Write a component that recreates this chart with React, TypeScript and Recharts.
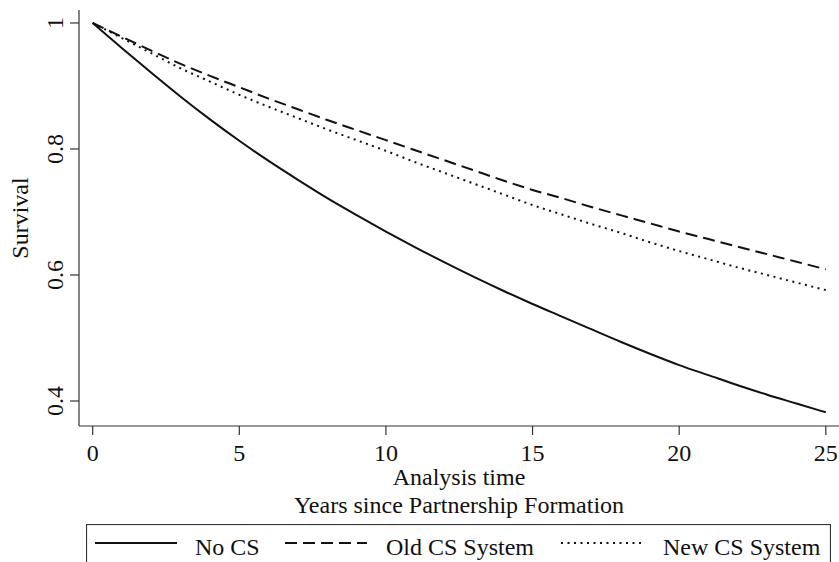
import React from "react";
import { LineChart, Line, XAxis, YAxis, Legend } from "recharts";

// years since partnership formation
const years = [0, 1, 2, 3, 4, 5, 6, 7, 8, 9, 10, 11, 12, 13, 14, 15, 16, 17, 18, 19, 20, 21, 22, 23, 24, 25];

// survival estimates
const noCS = [
  1.0, 0.96, 0.921, 0.883, 0.847, 0.813, 0.781, 0.751, 0.722, 0.695, 0.669, 0.644, 0.62,
  0.597, 0.575, 0.554, 0.534, 0.514, 0.494, 0.475, 0.457, 0.441, 0.425, 0.41, 0.396, 0.382,
];
const oldCS = [
  1.0, 0.978, 0.956, 0.935, 0.916, 0.898, 0.88, 0.863, 0.846, 0.83, 0.814, 0.798, 0.782,
  0.766, 0.75, 0.735, 0.722, 0.708, 0.695, 0.682, 0.669, 0.657, 0.645, 0.633, 0.621, 0.609,
];
const newCS = [
  1.0, 0.976, 0.952, 0.928, 0.907, 0.886, 0.867, 0.849, 0.831, 0.814, 0.797, 0.779, 0.762,
  0.745, 0.728, 0.711, 0.696, 0.681, 0.667, 0.652, 0.638, 0.625, 0.612, 0.6, 0.588, 0.576,
];

const xTicks = [0, 5, 10, 15, 20, 25];
const yTicks = [0.4, 0.6, 0.8, 1];

const seriesNames = ["No CS", "Old CS System", "New CS System"];

const data = years.map((t, i) => ({ t, noCS: noCS[i], oldCS: oldCS[i], newCS: newCS[i] }));

const FONT = "'Liberation Serif', 'Times New Roman', serif";
const FS = 24;
const AXIS = "#333";

const XTick = (props: any) => {
  const { x, y, payload } = props;
  return (
    <text x={x} y={y} textAnchor="middle" fontFamily={FONT} fontSize={FS} fill="#111">
      {payload.value}
    </text>
  );
};

const YTick = (props: any) => {
  const { x, y, payload } = props;
  const v = payload.value;
  return (
    <text
      x={x}
      y={y}
      textAnchor="middle"
      transform={`rotate(-90, ${x}, ${y})`}
      fontFamily={FONT}
      fontSize={FS}
      fill="#111"
    >
      {v === 1 ? "1" : v.toFixed(1)}
    </text>
  );
};

const XTitle = (props: any) => {
  const vb = props.viewBox;
  const cx = vb.x + vb.width / 2;
  return (
    <g fontFamily={FONT} fontSize={FS} fill="#111">
      <text x={cx} y={vb.y + 59} textAnchor="middle">Analysis time</text>
      <text x={cx} y={vb.y + 87} textAnchor="middle">Years since Partnership Formation</text>
    </g>
  );
};

const YTitle = (props: any) => {
  const vb = props.viewBox;
  const cy = vb.y + vb.height / 2;
  const x = 28;
  return (
    <text
      x={x}
      y={cy}
      textAnchor="middle"
      transform={`rotate(-90, ${x}, ${cy})`}
      fontFamily={FONT}
      fontSize={FS}
      fill="#111"
    >
      Survival
    </text>
  );
};

const dashes = [undefined, "12 6", "2 4.5"];
const lineX = [9, 199, 475];
const textX = [109, 300, 577];

const LegendBox = () => (
  <svg width={745} height={40} style={{ display: "block" }}>
    <rect x={0.5} y={0.5} width={744} height={50} fill="none" stroke={AXIS} strokeWidth={1.2} />
    {seriesNames.map((name, i) => (
      <g key={name}>
        <line
          x1={lineX[i]}
          x2={lineX[i] + 82}
          y1={19}
          y2={19}
          stroke="#111"
          strokeWidth={2}
          strokeDasharray={dashes[i]}
        />
        <text x={textX[i]} y={31} fontFamily={FONT} fontSize={FS} fill="#111">
          {name}
        </text>
      </g>
    ))}
  </svg>
);

export default function App() {
  return (
    <div style={{ position: "absolute", left: 0, top: 0, width: 839, height: 562, background: "#fff" }}>
      <LineChart width={839} height={562} data={data} margin={{ top: 10, right: 0, left: 0, bottom: 0 }}>
        <XAxis
          dataKey="t"
          type="number"
          domain={[-0.467, 25.45]}
          ticks={xTicks}
          allowDataOverflow
          height={96}
          stroke={AXIS}
          strokeWidth={1.2}
          tickSize={9}
          tickMargin={26}
          tick={<XTick />}
          tickLine={{ stroke: AXIS }}
          label={<XTitle />}
        />
        <YAxis
          type="number"
          domain={[0.3603, 1.0206]}
          ticks={yTicks}
          allowDataOverflow
          width={79}
          stroke={AXIS}
          strokeWidth={1.2}
          tickSize={9}
          tickMargin={7}
          tick={<YTick />}
          tickLine={{ stroke: AXIS }}
          label={<YTitle />}
        />
        <Legend
          verticalAlign="bottom"
          content={<LegendBox />}
          wrapperStyle={{ left: 86, top: 524, width: 745, height: 40, bottom: "auto" }}
        />
        <Line dataKey="noCS" name={seriesNames[0]} type="monotone" stroke="#111" strokeWidth={2} dot={false} isAnimationActive={false} />
        <Line dataKey="oldCS" name={seriesNames[1]} type="monotone" stroke="#111" strokeWidth={2} strokeDasharray="12 6" dot={false} isAnimationActive={false} />
        <Line dataKey="newCS" name={seriesNames[2]} type="monotone" stroke="#111" strokeWidth={2} strokeDasharray="2 4.5" dot={false} isAnimationActive={false} />
      </LineChart>
    </div>
  );
}
